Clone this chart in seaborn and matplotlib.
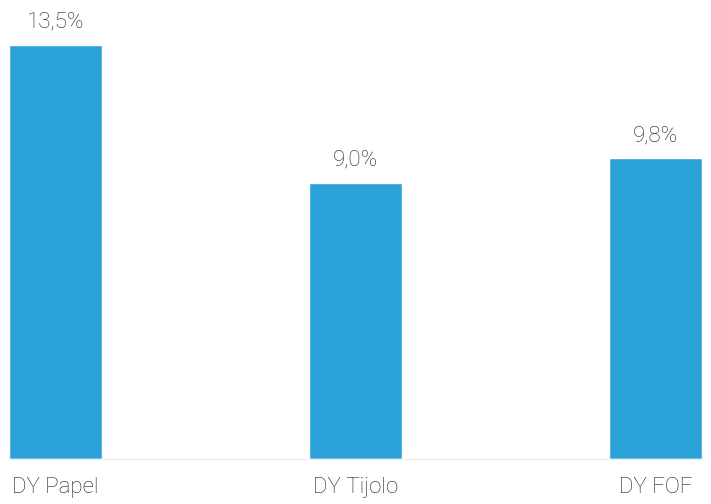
import matplotlib
matplotlib.use("Agg")
import matplotlib.pyplot as plt
import seaborn as sns
import pandas as pd

categories = ["DY Papel", "DY Tijolo", "DY FOF"]
values = [13.5, 9.0, 9.8]
labels = ["13,5%", "9,0%", "9,8%"]

BAR_COLOR = "#2ca3d8"
TEXT_COLOR = "#222222"

sns.set_style("white")
plt.rcParams["font.family"] = ["Roboto", "DejaVu Sans"]

df = pd.DataFrame({"cat": categories, "val": values})

fig = plt.figure(figsize=(7.11, 5.04), dpi=100)
ax = fig.add_axes([8 / 711, 1 - 459 / 504, 696 / 711, 459 / 504])

sns.barplot(data=df, x="cat", y="val", color=BAR_COLOR, saturation=1,
            width=0.31, ax=ax)

for i, (v, lab) in enumerate(zip(values, labels)):
    ax.text(i, v + 0.4, lab, ha="center", va="bottom", fontsize=16,
            fontweight="light", color=TEXT_COLOR)

ax.set_xlim(-0.158, 2.16)
ax.set_ylim(0, 14.96)
ax.set_xlabel("")
ax.set_ylabel("")
ax.set_yticks([])
ax.tick_params(axis="x", length=0, pad=13, labelsize=16, colors=TEXT_COLOR)
for t in ax.get_xticklabels():
    t.set_fontweight("light")
for s in ["top", "left", "right"]:
    ax.spines[s].set_visible(False)
ax.spines["bottom"].set_color("#f0f0f0")
ax.spines["bottom"].set_linewidth(1)

fig.savefig("out.png", dpi=100)
